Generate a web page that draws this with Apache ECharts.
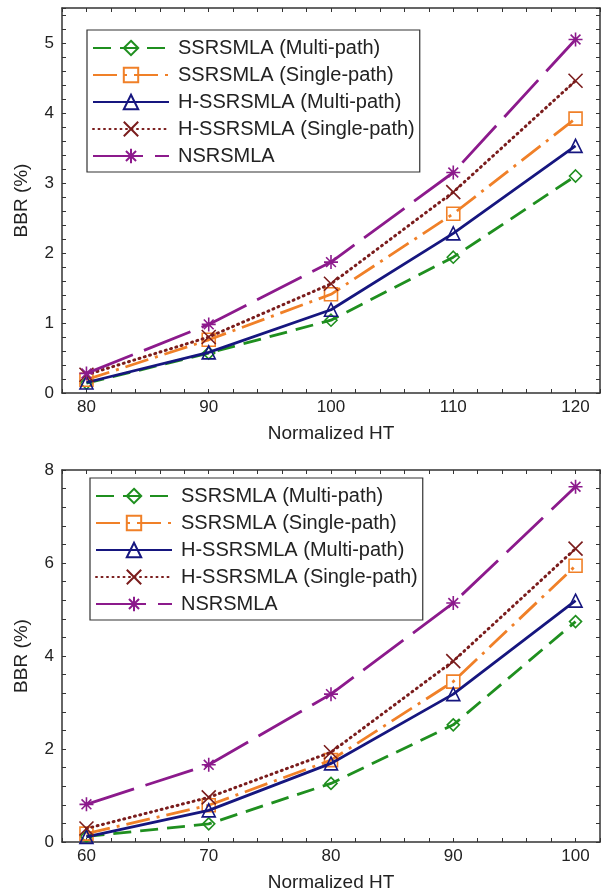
<!DOCTYPE html>
<html>
<head>
<meta charset="utf-8">
<script src="https://cdn.jsdelivr.net/npm/echarts@6/dist/echarts.min.js"></script>
<style>
html,body{margin:0;padding:0;background:#fff;}
#c{width:605px;height:893px;}
</style>
</head>
<body>
<div id="c"></div>
<script>
// ---------- data ----------
const seriesNames = ['SSRSMLA (Multi-path)', 'SSRSMLA (Single-path)', 'H-SSRSMLA (Multi-path)', 'H-SSRSMLA (Single-path)', 'NSRSMLA'];

// top chart
const xTop = [80, 90, 100, 110, 120];
const topSSRMulti   = [0.14, 0.57, 1.04, 1.94, 3.10];
const topSSRSingle  = [0.19, 0.76, 1.41, 2.56, 3.92];
const topHSSRMulti  = [0.15, 0.58, 1.19, 2.28, 3.53];
const topHSSRSingle = [0.26, 0.80, 1.56, 2.87, 4.46];
const topNSR        = [0.28, 0.98, 1.87, 3.15, 5.05];

// bottom chart
const xBot = [60, 70, 80, 90, 100];
const botSSRMulti   = [0.12, 0.39, 1.26, 2.52, 4.74];
const botSSRSingle  = [0.18, 0.79, 1.76, 3.45, 5.94];
const botHSSRMulti  = [0.11, 0.68, 1.69, 3.18, 5.19];
const botHSSRSingle = [0.29, 0.96, 1.93, 3.89, 6.31];
const botNSR        = [0.81, 1.66, 3.18, 5.14, 7.64];

// ---------- styles ----------
const FONT = 'Liberation Sans, Arial, Helvetica, sans-serif';
const AX = '#333';
const styles = [
  { color: '#1f8f1f', dash: [18, 9], symbol: 'diamond', size: 12 },
  { color: '#f08028', dash: [24, 7, 3, 7], symbol: 'rect', size: 13 },
  { color: '#16167f', dash: 'solid', symbol: 'triangle', size: 13 },
  { color: '#7a1c1c', dash: [1, 4.5], symbol: 'path://M0 0L10 10M10 0L0 10', size: 14, cap: 'round', width: 3 },
  { color: '#8c1a8c', dash: [50, 12], symbol: 'path://M5 0L5 10M0 5L10 5M1.5 1.5L8.5 8.5M8.5 1.5L1.5 8.5', size: 14 }
];

function mk(xs, ys) { return xs.map((x, i) => [x, ys[i]]); }

function makeSeries(gi, xs, arrs) {
  return arrs.map((ys, i) => {
    const s = styles[i];
    return {
      name: seriesNames[i],
      type: 'line',
      xAxisIndex: gi * 2,
      yAxisIndex: gi * 2,
      data: mk(xs, ys),
      symbol: s.symbol,
      symbolSize: s.size,
      showAllSymbol: true,
      color: s.color,
      lineStyle: { color: s.color, width: s.width || 2.8, type: s.dash, cap: s.cap || 'butt' },
      itemStyle: { color: 'rgba(255,255,255,0)', borderColor: s.color, borderWidth: 1.6 },
      emphasis: { disabled: true },
      z: 3 + i
    };
  });
}

const grids = [
  { left: 62, right: 5, top: 8, height: 385 },
  { left: 62, right: 5, top: 470, height: 372 }
];

function xAxes(gi, min, max) {
  const base = {
    type: 'value', gridIndex: gi, min: min, max: max, interval: 2,
    axisLine: { show: true, onZero: false, lineStyle: { color: AX, width: 1.5 } },
    axisTick: { show: true, inside: true, length: 4, lineStyle: { color: AX, width: 1 } },
    splitLine: { show: false }
  };
  return [
    Object.assign({}, base, {
      position: 'bottom',
      name: 'Normalized HT', nameLocation: 'middle', nameGap: 31,
      nameTextStyle: { fontFamily: FONT, fontSize: 19, color: '#222' },
      axisLabel: { show: true, margin: 6, fontFamily: FONT, fontSize: 17, color: '#222',
        formatter: v => (Math.abs(v % 10) < 1e-6 ? String(v) : '') }
    }),
    Object.assign({}, base, { position: 'top', axisLabel: { show: false } })
  ];
}

function yAxes(gi, min, max, interval, labelStep) {
  const base = {
    type: 'value', gridIndex: gi, min: min, max: max, interval: interval,
    axisLine: { show: true, onZero: false, lineStyle: { color: AX, width: 1.5 } },
    axisTick: { show: true, inside: true, length: 4, lineStyle: { color: AX, width: 1 } },
    splitLine: { show: false }
  };
  return [
    Object.assign({}, base, {
      position: 'left',
      name: 'BBR (%)', nameLocation: 'middle', nameGap: 31,
      nameTextStyle: { fontFamily: FONT, fontSize: 19, color: '#222' },
      axisLabel: { show: true, margin: 8, fontFamily: FONT, fontSize: 17, color: '#222',
        formatter: v => { const r = v / labelStep; return Math.abs(r - Math.round(r)) < 1e-6 ? String(Math.round(v)) : ''; } }
    }),
    Object.assign({}, base, { position: 'right', axisLabel: { show: false } })
  ];
}

function legend(left, top) {
  return {
    orient: 'vertical', left: left, top: top,
    data: seriesNames,
    itemWidth: 76, itemHeight: 18, itemGap: 7,
    padding: [8, 5, 6, 5],
    borderColor: '#333', borderWidth: 1.2, backgroundColor: '#fff',
    textStyle: { fontFamily: FONT, fontSize: 20, color: '#222', padding: [0, 0, 0, 4] },
    selectedMode: false,
    z: 10
  };
}

const series = [].concat(
  makeSeries(0, xTop, [topSSRMulti, topSSRSingle, topHSSRMulti, topHSSRSingle, topNSR]),
  makeSeries(1, xBot, [botSSRMulti, botSSRSingle, botHSSRMulti, botHSSRSingle, botNSR])
);

const option = {
  animation: false,
  backgroundColor: '#fff',
  grid: grids,
  xAxis: [].concat(xAxes(0, 78, 122), xAxes(1, 58, 102)),
  yAxis: [].concat(yAxes(0, 0, 5.5, 0.2, 1), yAxes(1, 0, 8, 0.4, 2)),
  legend: [legend(87, 30), legend(90, 478)],
  series: series
};

const chart = echarts.init(document.getElementById('c'), null, { renderer: 'canvas' });
chart.setOption(option);
</script>
</body>
</html>
